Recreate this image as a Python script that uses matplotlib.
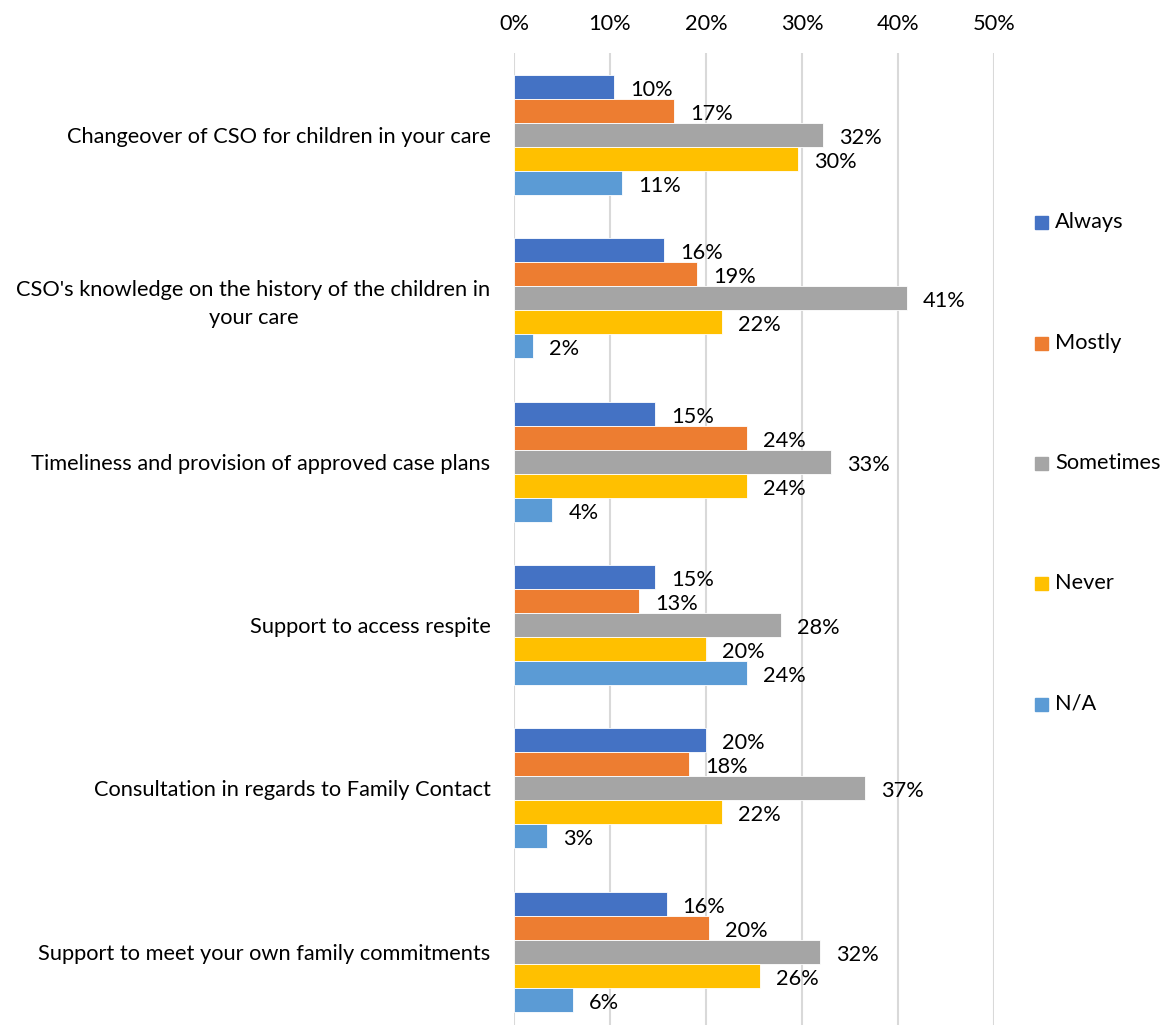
import matplotlib
matplotlib.use("Agg")
import matplotlib.pyplot as plt
from matplotlib.patches import Rectangle
import numpy as np

plt.rcParams['font.family'] = ['Lato', 'DejaVu Sans']

categories = [
    "Changeover of CSO for children in your care",
    "CSO's knowledge on the history of the children in\nyour care",
    "Timeliness and provision of approved case plans",
    "Support to access respite",
    "Consultation in regards to Family Contact",
    "Support to meet your own family commitments",
]
series = ["Always", "Mostly", "Sometimes", "Never", "N/A"]
always    = [10.4, 15.6, 14.7, 14.7, 20.0, 15.9]
mostly    = [16.7, 19.1, 24.3, 13.0, 18.2, 20.3]
sometimes = [32.2, 40.9, 33.0, 27.8, 36.6, 31.9]
never     = [29.6, 21.7, 24.3, 20.0, 21.7, 25.6]
na        = [11.3, 2.0, 4.0, 24.3, 3.4, 6.1]
values = [always, mostly, sometimes, never, na]
colors = ["#4472C4", "#ED7D31", "#A5A5A5", "#FFC000", "#5B9BD5"]
xticks = [0, 10, 20, 30, 40, 50]
xticklabels = ["0%", "10%", "20%", "30%", "40%", "50%"]

W, H = 1167, 1025
fig = plt.figure(figsize=(W / 100, H / 100), dpi=100)
top_px, bot_px = 53.3, 1033.5
left_px, right_px = 514, 994
ax = fig.add_axes([left_px / W, 1 - bot_px / H, (right_px - left_px) / W, (bot_px - top_px) / H])

fs = 15.7
n = len(series)
bh = 0.147
y = np.arange(len(categories))
for i, (s, vals, c) in enumerate(zip(series, values, colors)):
    pos = y + (i - (n - 1) / 2) * bh
    bars = ax.barh(pos, vals, height=bh, color=c, edgecolor="white", linewidth=0.6, zorder=3, label=s)
    for b, v in zip(bars, vals):
        ax.annotate(f"{v:.0f}%", xy=(v, b.get_y() + b.get_height() / 2), xytext=(16, -3),
                    textcoords="offset pixels", ha="left", va="center", fontsize=fs, color="#000000")

ax.set_xlim(0, 50)
ax.set_ylim(len(categories) - 0.5, -0.5)
ax.set_xticks(xticks)
ax.set_xticklabels(xticklabels)
ax.xaxis.tick_top()
ax.tick_params(axis="x", length=0, pad=14, labelsize=fs)
ax.set_yticks(y)
ax.set_yticklabels(categories, multialignment="center", linespacing=1.45)
ax.tick_params(axis="y", length=0, pad=17, labelsize=fs)
for sp in ax.spines.values():
    sp.set_visible(False)
ax.grid(axis="x", color="#D9D9D9", linewidth=1.5, zorder=0)
ax.set_axisbelow(True)

# legend
leg_y = [222, 343, 463, 583, 704]
for s, c, ly in zip(series, colors, leg_y):
    fig.patches.append(Rectangle((1035 / W, 1 - (ly + 6.5) / H), 13 / W, 13 / H,
                                 transform=fig.transFigure, color=c, figure=fig))
    fig.text(1055 / W, 1 - ly / H, s, ha="left", va="center", fontsize=fs)

fig.savefig("out.png", dpi=100)
